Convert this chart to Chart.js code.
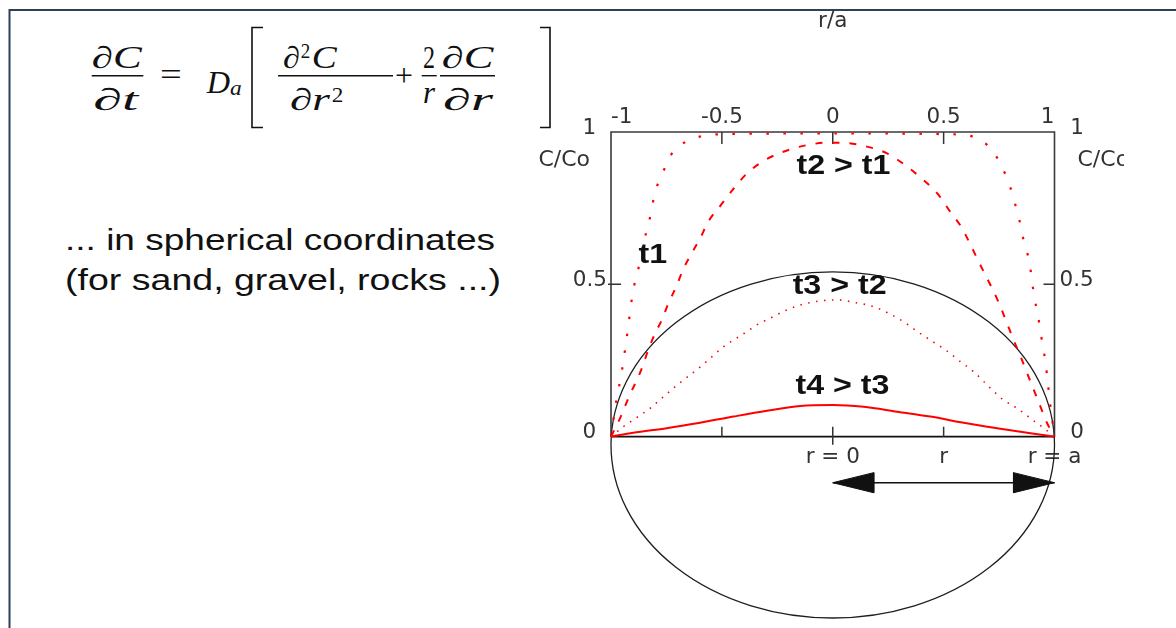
<!DOCTYPE html>
<html>
<head>
<meta charset="utf-8">
<script src="https://cdn.jsdelivr.net/npm/chart.js@4.4.1/dist/chart.umd.min.js"></script>
<style>
  html, body { margin: 0; padding: 0; background: #fff; }
  #wrap { position: relative; width: 1176px; height: 628px; overflow: hidden; background: #fff; }
  #deco { position: absolute; left: 0; top: 0; }
  #c { position: absolute; left: 0; top: 0; }
</style>
</head>
<body>
<div id="wrap">
<svg id="deco" width="1176" height="628" xmlns="http://www.w3.org/2000/svg">
  <path d="M9 10 H1176 M9.5 9 V628" fill="none" stroke="#2d3f5a" stroke-width="2"/>
  <g font-family="'Liberation Serif', 'DejaVu Serif', serif" fill="#111" font-size="31">
    <text x="91.7" y="68" font-style="italic" textLength="50" lengthAdjust="spacingAndGlyphs">∂C</text>
    <line x1="91.7" x2="143.3" y1="75.7" y2="75.7" stroke="#111" stroke-width="1.4"/>
    <text x="93.3" y="110" font-style="italic" textLength="45" lengthAdjust="spacingAndGlyphs">∂t</text>
    <text x="160" y="85" textLength="21.7" lengthAdjust="spacingAndGlyphs">=</text>
    <text x="206.7" y="93" font-style="italic" textLength="23.3" lengthAdjust="spacingAndGlyphs">D</text>
    <text x="230" y="95" font-style="italic" font-size="22" textLength="11.7" lengthAdjust="spacingAndGlyphs">a</text>
    <path d="M263 27.5 H252 V127.5 H263" fill="none" stroke="#111" stroke-width="1.6"/>
    <text x="283" y="68" font-style="italic" textLength="17" lengthAdjust="spacingAndGlyphs">∂</text>
    <text x="300.7" y="58" font-size="21" textLength="9.5" lengthAdjust="spacingAndGlyphs">2</text>
    <text x="311.7" y="68" font-style="italic" textLength="25" lengthAdjust="spacingAndGlyphs">C</text>
    <line x1="278" x2="393" y1="75.7" y2="75.7" stroke="#111" stroke-width="1.4"/>
    <text x="290" y="110" font-style="italic" textLength="40" lengthAdjust="spacingAndGlyphs">∂r</text>
    <text x="331.7" y="101.7" font-size="21" textLength="11.6" lengthAdjust="spacingAndGlyphs">2</text>
    <text x="395" y="86" textLength="18" lengthAdjust="spacingAndGlyphs">+</text>
    <text x="423" y="68" textLength="12" lengthAdjust="spacingAndGlyphs">2</text>
    <line x1="421.7" x2="436.7" y1="75.7" y2="75.7" stroke="#111" stroke-width="1.4"/>
    <text x="423" y="103" font-style="italic" textLength="12" lengthAdjust="spacingAndGlyphs">r</text>
    <text x="441.7" y="68" font-style="italic" textLength="51.6" lengthAdjust="spacingAndGlyphs">∂C</text>
    <line x1="440" x2="495" y1="75.7" y2="75.7" stroke="#111" stroke-width="1.4"/>
    <text x="443" y="110" font-style="italic" textLength="50" lengthAdjust="spacingAndGlyphs">∂r</text>
    <path d="M540 27.5 H550 V127.5 H540" fill="none" stroke="#111" stroke-width="1.6"/>
  </g>
  <g font-family="'Liberation Sans', Arial, sans-serif" fill="#111" font-size="30">
    <text x="65" y="250" textLength="430" lengthAdjust="spacingAndGlyphs">... in spherical coordinates</text>
    <text x="65" y="290" textLength="436" lengthAdjust="spacingAndGlyphs">(for sand, gravel, rocks ...)</text>
  </g>
</svg>
<canvas id="c" width="1176" height="628"></canvas>
</div>
<script>
// ---------- data ----------
// r/a positions and C/Co values for each time profile
const rT1 = [-1, -0.98, -0.95, -0.93, -0.9, -0.88, -0.85, -0.83, -0.8, -0.77, -0.74, -0.72, -0.67, -0.6, -0.5, -0.25, 0, 0.25, 0.5, 0.6, 0.65, 0.7, 0.73, 0.76, 0.8, 0.82, 0.84, 0.855, 0.875, 0.89, 0.9, 0.91, 0.925, 0.94, 0.96, 0.98, 1];
const cT1 = [0, 0.10, 0.22, 0.32, 0.48, 0.54, 0.645, 0.70, 0.805, 0.86, 0.91, 0.935, 0.965, 0.985, 0.993, 0.995, 0.995, 0.995, 0.993, 0.99, 0.979, 0.955, 0.928, 0.89, 0.82, 0.77, 0.717, 0.662, 0.61, 0.558, 0.503, 0.454, 0.40, 0.33, 0.24, 0.11, 0];

const rT2 = [-1, -0.956, -0.922, -0.861, -0.832, -0.801, -0.771, -0.741, -0.703, -0.676, -0.636, -0.598, -0.561, -0.508, -0.448, -0.387, -0.297, -0.192, -0.116, -0.026, 0.034, 0.154, 0.245, 0.312, 0.41, 0.478, 0.53, 0.579, 0.618, 0.651, 0.688, 0.726, 0.756, 0.786, 0.816, 0.847, 0.877, 0.907, 0.937, 0.967, 1];
const cT2 = [0, 0.066, 0.126, 0.224, 0.285, 0.339, 0.383, 0.438, 0.497, 0.547, 0.602, 0.651, 0.706, 0.757, 0.813, 0.864, 0.911, 0.943, 0.957, 0.965, 0.965, 0.952, 0.930, 0.899, 0.842, 0.793, 0.738, 0.689, 0.635, 0.585, 0.531, 0.476, 0.427, 0.372, 0.317, 0.263, 0.208, 0.153, 0.098, 0.044, 0];

const rT3 = [-1, -0.944, -0.9, -0.824, -0.764, -0.696, -0.606, -0.553, -0.493, -0.448, -0.387, -0.342, -0.282, -0.207, -0.116, 0.019, 0.102, 0.184, 0.252, 0.32, 0.372, 0.44, 0.508, 0.576, 0.636, 0.711, 0.771, 0.832, 0.892, 0.952, 1];
const cT3 = [0, 0.033, 0.055, 0.093, 0.131, 0.173, 0.224, 0.257, 0.295, 0.317, 0.345, 0.367, 0.389, 0.416, 0.438, 0.449, 0.44, 0.427, 0.405, 0.377, 0.35, 0.317, 0.285, 0.246, 0.213, 0.159, 0.12, 0.093, 0.06, 0.028, 0];

const rT4 = [-1, -0.9, -0.749, -0.598, -0.448, -0.297, -0.147, 0, 0.139, 0.29, 0.44, 0.59, 0.741, 0.892, 1];
const cT4 = [0, 0.013, 0.028, 0.046, 0.066, 0.085, 0.101, 0.104, 0.098, 0.082, 0.066, 0.046, 0.028, 0.011, 0];

// tick values / labels
const topTickValues = [-1, -0.5, 0, 0.5, 1];
const topTickLabels = ['-1', '-0.5', '0', '0.5', '1'];
const yTickValues = [0, 0.5, 1];
const yTickLabels = ['0', '0.5', '1'];
const rTickValues = [0, 0.5, 1];
const rTickLabels = ['r = 0', 'r', 'r = a'];
const innerTickValues = [-0.5, 0, 0.5];
const stageLabels = ['t1', 't2 > t1', 't3 > t2', 't4 > t3'];

// sphere outline and radius arrow (in r/a and C/Co units)
const sphereCenter = [0, -0.027];
const sphereRadii = [1, 0.568];
const arrowR = [0, 1];
const arrowC = [-0.151, -0.151];
const headLeftR = [0, 0.185, 0.185, 0];
const headLeftC = [-0.151, -0.118, -0.184, -0.151];
const headRightR = [1, 0.815, 0.815, 1];
const headRightC = [-0.151, -0.118, -0.184, -0.151];

// ---------- layout / style constants ----------
const yMin = -0.62;
const stageLabelPos = [[-0.811, 0.596], [0.048, 0.887], [0.031, 0.495], [0.044, 0.164]];
const axisNamePosC = 0.908;
const tickFont = { family: "'DejaVu Sans', sans-serif", size: 21.5 };
const tickColor = '#333';
const RED = '#ff0000';

const pts = (rs, cs) => rs.map((r, i) => ({ x: r, y: cs[i] }));

const decor = {
  id: 'decor',
  beforeDatasetsDraw(chart) {
    const { ctx, scales: { x, y } } = chart;
    ctx.save();
    // sphere outline
    const cx = x.getPixelForValue(sphereCenter[0]);
    const cy = y.getPixelForValue(sphereCenter[1]);
    const rx = x.getPixelForValue(sphereCenter[0] + sphereRadii[0]) - cx;
    const ry = cy - y.getPixelForValue(sphereCenter[1] + sphereRadii[1]);
    ctx.beginPath();
    ctx.ellipse(cx, cy, rx, ry, 0, 0, Math.PI * 2);
    ctx.strokeStyle = '#1e1e1e';
    ctx.lineWidth = 1.3;
    ctx.stroke();
    // plot frame
    const L = x.getPixelForValue(-1), R = x.getPixelForValue(1);
    const T = y.getPixelForValue(1), B = y.getPixelForValue(0);
    ctx.strokeStyle = '#3a3a3a';
    ctx.lineWidth = 1.6;
    ctx.beginPath();
    ctx.moveTo(L, B); ctx.lineTo(L, T); ctx.lineTo(R, T); ctx.lineTo(R, B);
    ctx.stroke();
    ctx.strokeStyle = '#111';
    ctx.lineWidth = 1.8;
    ctx.beginPath(); ctx.moveTo(L, B); ctx.lineTo(R, B); ctx.stroke();
    // inner tick marks
    ctx.strokeStyle = '#333';
    ctx.lineWidth = 1.5;
    ctx.beginPath();
    innerTickValues.forEach(v => {
      const px = x.getPixelForValue(v);
      ctx.moveTo(px, T); ctx.lineTo(px, T + 12);
      ctx.moveTo(px, B); ctx.lineTo(px, B - 10);
      if (v === 0) { ctx.moveTo(px, B); ctx.lineTo(px, B + 8); }
    });
    const ym = y.getPixelForValue(0.5);
    ctx.moveTo(L - 3, ym); ctx.lineTo(L + 10, ym);
    ctx.moveTo(R - 11, ym); ctx.lineTo(R, ym);
    ctx.stroke();
    ctx.restore();
  },
  afterDatasetsDraw(chart) {
    const { ctx, scales: { x, y } } = chart;
    ctx.save();
    // stage labels
    ctx.fillStyle = '#111';
    ctx.font = "bold 28px 'Liberation Sans', Arial, sans-serif";
    ctx.textAlign = 'center';
    ctx.textBaseline = 'middle';
    stageLabels.forEach((t, i) => {
      const px = x.getPixelForValue(stageLabelPos[i][0]);
      const py = y.getPixelForValue(stageLabelPos[i][1]);
      ctx.save();
      ctx.translate(px, py);
      ctx.scale(1.15, 1);
      ctx.fillText(t, 0, 0);
      ctx.restore();
    });
    // C/Co axis names
    ctx.fillStyle = tickColor;
    ctx.font = "22px 'DejaVu Sans', sans-serif";
    const py = y.getPixelForValue(axisNamePosC);
    ctx.textAlign = 'right';
    ctx.fillText('C/Co', x.getPixelForValue(-1) - 21, py);
    ctx.save();
    ctx.beginPath();
    ctx.rect(0, 0, 1124, chart.height);
    ctx.clip();
    ctx.textAlign = 'left';
    ctx.fillText('C/Co', x.getPixelForValue(1) + 23, py);
    ctx.restore();
    ctx.restore();
  }
};

const lineBase = { showLine: true, pointRadius: 0, pointHoverRadius: 0, clip: false, cubicInterpolationMode: 'monotone', fill: false };
const noGrid = { display: false, drawTicks: false, tickLength: 0 };

new Chart(document.getElementById('c'), {
  type: 'scatter',
  data: {
    datasets: [
      { ...lineBase, label: 't3', data: pts(rT3, cT3), borderColor: RED, borderWidth: 1.6, borderDash: [1.5, 6.5] },
      { ...lineBase, label: 't2', data: pts(rT2, cT2), borderColor: RED, borderWidth: 2, borderDash: [7, 10] },
      { ...lineBase, label: 't1', data: pts(rT1, cT1), borderColor: RED, borderWidth: 2.2, borderDash: [2.5, 14.5] },
      { ...lineBase, label: 't4', data: pts(rT4, cT4), borderColor: RED, borderWidth: 2 },
      { ...lineBase, label: 'radius', cubicInterpolationMode: 'default', data: pts(arrowR, arrowC), borderColor: '#111', borderWidth: 1.5 },
      { ...lineBase, label: 'headL', cubicInterpolationMode: 'default', data: pts(headLeftR, headLeftC), borderColor: '#111', backgroundColor: '#111', borderWidth: 1, fill: 'shape' },
      { ...lineBase, label: 'headR', cubicInterpolationMode: 'default', data: pts(headRightR, headRightC), borderColor: '#111', backgroundColor: '#111', borderWidth: 1, fill: 'shape' }
    ]
  },
  options: {
    responsive: false,
    animation: false,
    devicePixelRatio: 1,
    layout: { padding: { left: 0, right: 0, top: 0, bottom: 2.4 } },
    plugins: { legend: { display: false }, tooltip: { enabled: false } },
    events: [],
    scales: {
      x: {
        type: 'linear', position: 'top', min: -1, max: 1,
        grid: noGrid, border: { display: false },
        afterBuildTicks: s => { s.ticks = topTickValues.map(v => ({ value: v })); },
        ticks: { align: 'inner', padding: 2, color: tickColor, font: tickFont, maxRotation: 0, autoSkip: false,
                 callback: (v, i) => topTickLabels[i] },
        title: { display: true, text: 'r/a', color: tickColor, font: tickFont, padding: { top: 9, bottom: 0 } },
        afterFit: s => { s.height = 132; s.paddingLeft = 0; s.paddingRight = 0; }
      },
      x2: {
        type: 'linear', axis: 'x', position: { y: 0 }, min: -1, max: 1,
        grid: noGrid, border: { display: false },
        afterBuildTicks: s => { s.ticks = rTickValues.map(v => ({ value: v })); },
        ticks: { padding: 8, color: tickColor, font: tickFont, maxRotation: 0, autoSkip: false,
                 callback: (v, i) => rTickLabels[i] },
        afterFit: s => { s.paddingLeft = 0; s.paddingRight = 0; }
      },
      y: {
        type: 'linear', position: 'left', min: yMin, max: 1,
        grid: noGrid, border: { display: false },
        afterBuildTicks: s => { s.ticks = yTickValues.map(v => ({ value: v })); },
        ticks: { padding: 4, labelOffset: -4, color: tickColor, font: tickFont, autoSkip: false,
                 callback: (v, i) => yTickLabels[i] + (yTickLabels[i].length === 1 ? '\u2002' : '') },
        afterFit: s => { s.width = 611; s.paddingTop = 0; s.paddingBottom = 0; }
      },
      y2: {
        type: 'linear', axis: 'y', position: 'right', min: yMin, max: 1,
        grid: noGrid, border: { display: false },
        afterBuildTicks: s => { s.ticks = yTickValues.map(v => ({ value: v })); },
        ticks: { padding: 5, labelOffset: -4, color: tickColor, font: tickFont, autoSkip: false,
                 callback: (v, i) => (yTickLabels[i].length === 1 ? '\u2002' : '') + yTickLabels[i] },
        afterFit: s => { s.width = 121.5; s.paddingTop = 0; s.paddingBottom = 0; }
      }
    }
  },
  plugins: [decor]
});
</script>
</body>
</html>
